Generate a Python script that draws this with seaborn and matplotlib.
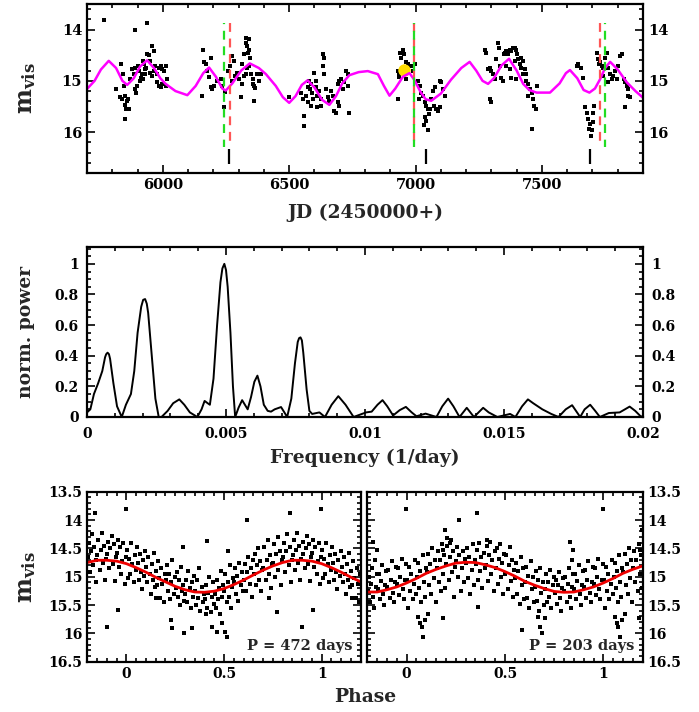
import numpy as np
import pandas as pd
import matplotlib
matplotlib.use("Agg")
import matplotlib.pyplot as plt
from matplotlib.ticker import MultipleLocator, FuncFormatter
import seaborn as sns

# ---------------- DATA ----------------
# light curve (JD-2450000, visual magnitude)
lc_jd = [5766, 5891, 5938, 5815, 5836, 5841, 5845, 5832, 5839, 5852, 5858, 5862, 5849, 5854, 5865, 5852,
         5872, 5878, 5885, 5891, 5898, 5891, 5894, 5902, 5907, 5915, 5918, 5921, 5928, 5934, 5938, 5944,
         5951, 5958, 5964, 5971, 5964, 5977, 5984, 5991, 5997, 6004, 6011, 5977, 5984, 5991, 5997, 6011,
         6017, 5958, 5951, 5925, 5911, 5905, 5921, 5931,
         6159, 6163, 6169, 6176, 6189, 6183, 6189, 6196, 6156, 6202, 6216, 6229, 6235, 6242, 6246, 6259,
         6265, 6275, 6282, 6275, 6286, 6295, 6302, 6308, 6315, 6321, 6328, 6331, 6335, 6337, 6341, 6345,
         6341, 6348, 6355, 6357, 6361, 6365, 6361, 6374, 6381, 6388, 6328, 6335, 6315, 6321, 6341,
         6500, 6546, 6553, 6560, 6557, 6566, 6573, 6579, 6583, 6586, 6592, 6596, 6599, 6606, 6606, 6612,
         6619, 6625, 6632, 6636, 6632, 6639, 6645, 6652, 6659, 6665, 6672, 6678, 6685, 6692, 6698, 6692,
         6698, 6705, 6711, 6718, 6725, 6731, 6734, 6738, 6625, 6612, 6575, 6586,
         6930, 6936, 6940, 6943, 6950, 6956, 6963, 6930, 6936, 6983, 6989, 6999, 7009, 7016, 7022, 7012,
         7029, 7036, 7042, 7049, 7055, 7036, 7042, 7049, 7033, 7062, 7069, 7075, 7082, 7089, 7095, 7102,
         7095, 7108, 7115, 7059, 7073, 6963, 6969, 6956,
         7273, 7277, 7287, 7293, 7300, 7307, 7313, 7293, 7300, 7320, 7326, 7330, 7333, 7340, 7346, 7349,
         7353, 7359, 7366, 7373, 7379, 7386, 7393, 7399, 7402, 7393, 7406, 7412, 7419, 7426, 7419, 7432,
         7426, 7439, 7439, 7445, 7452, 7459, 7445, 7465, 7468, 7476, 7459, 7481, 7359, 7373, 7379, 7399,
         7637, 7644, 7653, 7661, 7670, 7680, 7684, 7690, 7688, 7697, 7703, 7693, 7703, 7706, 7717, 7723,
         7727, 7730, 7737, 7743, 7750, 7756, 7763, 7770, 7783, 7789, 7796, 7803, 7809, 7816, 7823, 7829,
         7836, 7842, 7842, 7849, 7829, 7743, 7776, 7763]
lc_mag = [13.81, 14.00, 13.88, 15.16, 14.68, 14.87, 15.11, 15.32, 15.36, 15.29, 15.39, 15.36, 15.47, 15.55, 15.55, 15.74,
          14.97, 14.77, 14.87, 14.74, 15.11, 15.16, 15.23, 14.71, 14.81, 14.94, 14.87, 14.97, 14.77, 14.74, 14.48, 14.50,
          14.61, 14.32, 14.42, 14.71, 14.81, 14.87, 14.74, 14.71, 14.77, 14.81, 14.71, 15.03, 15.10, 15.13, 15.06, 15.11,
          14.97, 14.90, 14.84, 14.68, 15.00, 14.81, 14.61, 14.87,
          14.39, 14.64, 14.68, 14.81, 14.55, 14.92, 15.13, 15.16, 15.29, 15.11, 15.00, 14.97, 15.11, 15.52, 15.21, 14.81,
          14.71, 14.51, 14.61, 15.00, 14.90, 14.84, 14.97, 15.32, 15.06, 14.90, 14.16, 14.26, 14.32, 14.45, 14.39, 14.55,
          14.71, 14.87, 14.97, 15.06, 15.11, 15.15, 15.39, 14.87, 15.00, 14.87, 14.87, 14.74, 14.68, 14.48, 14.19,
          15.32, 15.23, 15.36, 15.68, 15.89, 15.29, 15.13, 15.00, 15.16, 15.06, 15.23, 15.36, 14.84, 15.00, 15.13, 15.29,
          15.19, 15.36, 14.48, 14.55, 14.71, 14.87, 15.16, 15.32, 15.39, 15.19, 15.29, 15.58, 15.62, 15.42, 15.49, 15.06,
          15.00, 14.97, 15.16, 15.03, 14.81, 14.87, 15.10, 15.62, 15.49, 15.52, 15.42, 15.49,
          15.36, 14.92, 14.45, 14.55, 14.39, 14.48, 14.63, 14.81, 14.84, 14.71, 14.81, 14.68, 15.00, 15.10, 15.23, 15.36,
          15.29, 15.42, 15.49, 15.55, 15.65, 15.71, 15.78, 15.97, 15.87, 15.36, 15.19, 15.13, 15.55, 15.58, 15.52, 15.03,
          15.00, 15.16, 15.29, 15.55, 15.49, 14.97, 14.68, 14.77,
          14.39, 14.45, 14.77, 14.74, 14.81, 14.87, 14.97, 15.36, 15.42, 14.58, 14.26, 14.35, 14.71, 14.94, 15.00, 14.48,
          14.45, 14.42, 14.48, 14.39, 14.42, 14.35, 14.35, 14.39, 14.48, 14.61, 14.58, 14.68, 14.55, 14.61, 14.74, 14.77,
          14.87, 14.87, 15.00, 15.06, 15.16, 15.23, 15.29, 15.36, 15.49, 15.55, 15.94, 15.11, 14.71, 14.77, 14.94, 14.97,
          14.71, 14.68, 14.74, 14.94, 15.52, 15.62, 15.74, 15.84, 15.94, 15.97, 15.81, 16.07, 15.62, 15.49, 14.45, 14.58,
          14.68, 14.64, 14.71, 14.74, 14.55, 14.45, 14.74, 14.87, 14.90, 14.81, 14.97, 14.71, 14.51, 14.48, 14.97, 15.03,
          15.10, 15.16, 15.29, 15.32, 15.52, 14.90, 14.97, 15.03]

# multi-periodic fit (magenta)
fit_jd = [5700, 5730, 5755, 5786, 5815, 5840, 5859, 5885, 5910, 5938, 5965, 5990, 6011, 6050, 6097, 6130,
          6160, 6183, 6210, 6235, 6249, 6275, 6310, 6344, 6380, 6408, 6447, 6475, 6500, 6525, 6550, 6573,
          6600, 6630, 6659, 6685, 6710, 6738, 6775, 6811, 6851, 6875, 6897, 6920, 6950, 6976, 6995, 7020,
          7040, 7062, 7100, 7140, 7181, 7214, 7240, 7265, 7287, 7310, 7340, 7370, 7400, 7426, 7450, 7479,
          7532, 7570, 7595, 7611, 7640, 7665, 7688, 7710, 7730, 7750, 7770, 7800, 7836, 7870, 7900]
fit_mag = [15.16, 15.00, 14.78, 14.61, 14.75, 15.00, 15.08, 14.95, 14.72, 14.60, 14.75, 14.95, 15.06, 15.20, 15.28, 15.10,
           14.85, 14.74, 14.92, 15.15, 15.19, 15.05, 14.80, 14.66, 14.75, 14.87, 15.10, 15.32, 15.43, 15.30, 15.08, 14.99,
           15.13, 15.37, 15.47, 15.30, 15.05, 14.89, 14.83, 14.81, 14.87, 15.10, 15.29, 15.15, 14.92, 14.85, 14.98, 15.22,
           15.36, 15.39, 15.25, 14.98, 14.75, 14.63, 14.80, 15.00, 15.06, 14.95, 14.70, 14.57, 14.80, 15.06, 15.18, 15.23,
           15.23, 15.05, 14.85, 14.79, 14.95, 15.18, 15.23, 15.15, 14.97, 14.75, 14.63, 14.78, 15.03, 15.20, 15.33]

green_jd = [6241, 6993, 7749]
red_jd = [6264, 6993, 7728]
mark_jd = [6262, 7043, 7692]
yellow_jd, yellow_mag = [6954], [14.78]

# periodogram
freq = [0.0, 0.00012, 0.00025, 0.0004, 0.00055, 0.00065, 0.00069, 0.00074, 0.00079, 0.00083, 0.00095, 0.00108, 0.00125,
        0.0014, 0.00158, 0.0017, 0.00182, 0.00195, 0.00202, 0.00209, 0.00215, 0.0022, 0.00233, 0.00246, 0.00258,
        0.00268, 0.0029, 0.0031, 0.00332, 0.0035, 0.0037, 0.00397, 0.00412, 0.00423, 0.00434, 0.00442,
        0.00455, 0.00468, 0.0048, 0.00487, 0.00494, 0.005, 0.00506, 0.00516, 0.00525, 0.00533,
        0.00545, 0.00558, 0.00568, 0.00578, 0.0059, 0.00602, 0.00613, 0.00624, 0.00636, 0.0065, 0.00662,
        0.00675, 0.00698, 0.0071, 0.0072, 0.00735, 0.00748, 0.00758, 0.00763, 0.00768, 0.00773, 0.00778, 0.0079, 0.008,
        0.0081, 0.00836, 0.00856, 0.0088, 0.00904, 0.0093, 0.00959, 0.01004, 0.01024, 0.01045, 0.01063,
        0.0108, 0.01101, 0.01125, 0.01147, 0.01168, 0.01185, 0.01218, 0.01257, 0.01278, 0.01299, 0.01318,
        0.0134, 0.01366, 0.01392, 0.01425, 0.01445, 0.01476, 0.01522, 0.01541, 0.01565, 0.01586, 0.01605,
        0.01638, 0.0167, 0.01696, 0.01722, 0.01745, 0.01774, 0.0179, 0.0181, 0.01828, 0.01845, 0.01877,
        0.01916, 0.01935, 0.01952, 0.01972, 0.01994, 0.02]
power = [0.03, 0.05, 0.15, 0.22, 0.30, 0.39, 0.41, 0.42, 0.41, 0.38, 0.22, 0.07, 0.0,
         0.08, 0.15, 0.30, 0.55, 0.72, 0.765, 0.77, 0.74, 0.68, 0.40, 0.12, 0.0,
         0.0, 0.04, 0.09, 0.115, 0.08, 0.03, 0.0, 0.05, 0.105, 0.09, 0.08,
         0.25, 0.60, 0.88, 0.97, 1.0, 0.96, 0.85, 0.55, 0.20, 0.0,
         0.06, 0.11, 0.08, 0.05, 0.13, 0.23, 0.27, 0.20, 0.08, 0.04, 0.035,
         0.05, 0.065, 0.03, 0.0, 0.12, 0.35, 0.49, 0.515, 0.52, 0.50, 0.42, 0.18, 0.04,
         0.02, 0.03, 0.0, 0.08, 0.136, 0.08, 0.0, 0.03, 0.035, 0.08, 0.11,
         0.07, 0.01, 0.045, 0.066, 0.03, 0.005, 0.022, 0.0, 0.07, 0.12, 0.07,
         0.0, 0.06, 0.0, 0.06, 0.03, 0.0, 0.02, 0.0, 0.07, 0.115, 0.09,
         0.05, 0.02, 0.0, 0.05, 0.077, 0.0, 0.05, 0.08, 0.04, 0.0, 0.026,
         0.03, 0.05, 0.068, 0.04, 0.0, 0.01]

# phase-folded data, P = 472 d
ph1 = [0.004, 0.011, 0.018, 0.024, 0.031, 0.037, 0.043, 0.048, 0.008,
       0.053, 0.058, 0.064, 0.069, 0.075, 0.081, 0.086, 0.092, 0.097,
       0.102, 0.108, 0.113, 0.119, 0.124, 0.131, 0.137, 0.142, 0.147,
       0.152, 0.157, 0.163, 0.168, 0.174, 0.179, 0.185, 0.191, 0.196,
       0.203, 0.208, 0.214, 0.219, 0.225, 0.231, 0.236, 0.242, 0.247,
       0.252, 0.257, 0.263, 0.268, 0.274, 0.279, 0.285, 0.291, 0.296,
       0.302, 0.307, 0.313, 0.318, 0.324, 0.331, 0.336, 0.342, 0.347,
       0.352, 0.357, 0.363, 0.368, 0.374, 0.379, 0.385, 0.391, 0.396,
       0.402, 0.407, 0.413, 0.418, 0.424, 0.431, 0.436, 0.442, 0.447,
       0.452, 0.457, 0.463, 0.468, 0.474, 0.479, 0.485, 0.491, 0.496,
       0.502, 0.507, 0.513, 0.518, 0.524, 0.531, 0.536, 0.542, 0.547,
       0.552, 0.557, 0.563, 0.568, 0.574, 0.579, 0.585, 0.591, 0.596,
       0.602, 0.607, 0.613, 0.618, 0.624, 0.631, 0.636, 0.642, 0.647,
       0.652, 0.657, 0.663, 0.668, 0.674, 0.679, 0.685, 0.691, 0.696,
       0.702, 0.707, 0.713, 0.718, 0.724, 0.731, 0.736, 0.742, 0.747,
       0.752, 0.757, 0.763, 0.768, 0.774, 0.779, 0.785, 0.791, 0.796,
       0.802, 0.807, 0.813, 0.818, 0.824, 0.831, 0.836, 0.842, 0.847,
       0.852, 0.857, 0.863, 0.868, 0.874, 0.879, 0.885, 0.891, 0.896,
       0.902, 0.907, 0.913, 0.918, 0.924, 0.931, 0.936, 0.942, 0.947,
       0.952, 0.957, 0.963, 0.968, 0.974, 0.979, 0.985, 0.991, 0.996,
       0.839, 0.996, 0.619, 0.411, 0.291, 0.519, 0.899, 0.955, 0.228, 0.235, 0.297,
       0.334, 0.437, 0.488, 0.513, 0.505, 0.462, 0.406, 0.769, 0.730, 0.153]
mg1 = [14.52, 14.68, 14.95, 14.40, 14.78, 15.10, 14.62, 14.88, 15.02,
       14.48, 14.75, 15.05, 14.60, 14.92, 15.22, 14.70, 14.98, 14.55,
       14.82, 15.10, 14.65, 14.95, 15.30, 14.78, 15.05, 14.58, 15.18,
       14.90, 15.15, 14.72, 15.02, 15.38, 14.85, 15.12, 15.45, 14.95,
       15.05, 14.80, 15.25, 14.95, 15.40, 15.10, 14.70, 15.30, 15.00,
       15.20, 14.92, 15.35, 15.05, 15.50, 14.82, 15.25, 15.15, 15.42,
       15.30, 15.05, 15.45, 14.90, 15.20, 15.55, 15.10, 15.35, 14.98,
       15.25, 15.50, 15.05, 15.38, 14.85, 15.60, 15.18, 15.45, 15.30,
       15.40, 15.15, 15.55, 15.28, 15.00, 15.62, 15.35, 15.10, 15.48,
       15.30, 15.55, 15.05, 15.40, 15.20, 15.65, 14.90, 15.35, 15.15,
       15.25, 14.95, 15.45, 15.10, 15.35, 14.80, 15.55, 15.18, 15.02,
       15.10, 14.85, 15.30, 14.98, 15.42, 14.75, 15.15, 14.92, 15.25,
       15.05, 14.78, 15.25, 14.92, 14.65, 15.12, 14.85, 15.35, 14.70,
       14.95, 14.60, 15.15, 14.80, 14.50, 15.05, 14.72, 15.25, 14.88,
       14.85, 14.48, 15.05, 14.70, 14.35, 14.95, 14.62, 15.20, 14.78,
       14.75, 14.42, 15.00, 14.60, 14.30, 14.88, 14.55, 15.15, 14.70,
       14.65, 14.40, 14.92, 14.55, 14.25, 14.80, 14.48, 15.10, 14.70,
       14.62, 14.35, 14.88, 14.52, 14.22, 14.75, 14.45, 15.05, 14.68,
       14.60, 14.38, 14.85, 14.50, 14.28, 14.78, 14.42, 15.08, 14.65,
       14.58, 14.35, 14.82, 14.48, 14.95, 14.72, 14.40, 15.12, 14.65,
       13.88, 13.81, 14.00, 14.37, 14.47, 14.54, 15.88, 15.59, 15.76, 15.91, 16.00,
       15.91, 15.88, 15.82, 16.06, 15.97, 15.97, 15.65, 15.62, 15.38, 15.38]

# phase-folded data, P = 203 d
ph2 = [0.004, 0.011, 0.018, 0.024, 0.031, 0.037, 0.043, 0.048, 0.008,
       0.053, 0.058, 0.064, 0.069, 0.075, 0.081, 0.086, 0.092, 0.097,
       0.102, 0.108, 0.113, 0.119, 0.124, 0.131, 0.137, 0.142, 0.147,
       0.152, 0.157, 0.163, 0.168, 0.174, 0.179, 0.185, 0.191, 0.196,
       0.202, 0.207, 0.213, 0.218, 0.224, 0.231, 0.236, 0.242, 0.247,
       0.252, 0.257, 0.263, 0.268, 0.274, 0.279, 0.285, 0.291, 0.296,
       0.302, 0.307, 0.313, 0.318, 0.324, 0.331, 0.336, 0.342, 0.347,
       0.352, 0.357, 0.363, 0.368, 0.374, 0.379, 0.385, 0.391, 0.396,
       0.402, 0.407, 0.413, 0.418, 0.424, 0.431, 0.436, 0.442, 0.447,
       0.452, 0.457, 0.463, 0.468, 0.474, 0.479, 0.485, 0.491, 0.496,
       0.502, 0.507, 0.513, 0.518, 0.524, 0.531, 0.536, 0.542, 0.547,
       0.552, 0.557, 0.563, 0.568, 0.574, 0.579, 0.585, 0.591, 0.596,
       0.602, 0.607, 0.613, 0.618, 0.624, 0.631, 0.636, 0.642, 0.647,
       0.652, 0.657, 0.663, 0.668, 0.674, 0.679, 0.685, 0.691, 0.696,
       0.702, 0.707, 0.713, 0.718, 0.724, 0.731, 0.736, 0.742, 0.747,
       0.752, 0.757, 0.763, 0.768, 0.774, 0.779, 0.785, 0.791, 0.796,
       0.802, 0.807, 0.813, 0.818, 0.824, 0.831, 0.836, 0.842, 0.847,
       0.852, 0.857, 0.863, 0.868, 0.874, 0.879, 0.885, 0.891, 0.896,
       0.902, 0.907, 0.913, 0.918, 0.924, 0.931, 0.936, 0.942, 0.947,
       0.952, 0.957, 0.963, 0.968, 0.974, 0.979, 0.985, 0.991, 0.996,
       0.998, 0.359, 0.267, 0.076, 0.085, 0.068, 0.093, 0.110, 0.059, 0.183, 0.364,
       0.585, 0.669, 0.678, 0.686, 0.703, 0.195, 0.203, 0.220, 0.186, 0.407, 0.830,
       0.847, 0.839]
mg2 = [15.05, 14.82, 15.25, 14.95, 15.40, 15.12, 14.70, 15.30, 15.55,
       15.00, 14.75, 15.20, 14.90, 15.45, 14.62, 15.10, 15.35, 14.85,
       14.92, 14.60, 15.15, 14.78, 15.30, 14.50, 15.02, 14.70, 15.45,
       14.85, 14.55, 15.10, 14.70, 15.25, 14.42, 14.95, 14.62, 15.20,
       14.78, 14.45, 15.05, 14.65, 14.35, 14.92, 14.55, 15.35, 14.82,
       14.72, 14.48, 15.00, 14.62, 15.25, 14.85, 14.55, 15.10, 14.68,
       14.75, 14.50, 15.02, 14.65, 15.30, 14.88, 14.42, 15.15, 14.70,
       14.78, 14.52, 15.05, 14.40, 14.90, 14.65, 15.20, 14.58, 14.85,
       14.80, 14.45, 15.08, 14.62, 14.38, 14.95, 14.70, 15.25, 14.55,
       14.85, 14.50, 15.12, 14.68, 14.42, 15.00, 14.75, 15.30, 14.60,
       14.95, 14.62, 15.22, 14.80, 14.48, 15.08, 14.70, 15.35, 14.88,
       15.02, 14.75, 15.30, 14.90, 15.48, 14.65, 15.15, 14.85, 15.40,
       15.10, 14.82, 15.38, 14.98, 15.55, 14.72, 15.22, 15.00, 15.45,
       15.18, 14.90, 15.42, 15.05, 15.60, 14.85, 15.28, 15.10, 15.50,
       15.22, 14.95, 15.45, 15.10, 15.35, 14.88, 15.55, 15.15, 15.00,
       15.28, 15.05, 15.48, 15.15, 14.92, 15.38, 15.60, 15.20, 15.02,
       15.25, 15.00, 15.45, 15.12, 14.85, 15.35, 15.55, 15.18, 14.95,
       15.22, 14.95, 15.40, 15.08, 14.80, 15.30, 15.50, 15.15, 14.90,
       15.18, 14.88, 15.38, 15.05, 14.72, 15.28, 15.45, 15.10, 14.82,
       15.12, 14.85, 15.32, 15.00, 14.68, 15.22, 15.40, 15.05, 14.78,
       13.81, 13.88, 14.00, 15.88, 16.06, 15.82, 15.76, 15.65, 15.71, 15.73, 15.53,
       15.94, 15.71, 15.88, 16.00, 15.73, 14.18, 14.32, 14.41, 14.53, 14.35, 14.38,
       14.53, 14.71]

# sinusoidal fits
cph = [-0.2, -0.15, -0.1, -0.05, 0.0, 0.05, 0.1, 0.15, 0.2, 0.25, 0.3, 0.35, 0.4, 0.45, 0.5,
       0.55, 0.6, 0.65, 0.7, 0.75, 0.8, 0.85, 0.9, 0.95, 1.0, 1.05, 1.1, 1.15, 1.2]
cfit1 = [14.75, 14.71, 14.71, 14.725, 14.77, 14.84, 14.92, 15.01, 15.09, 15.17, 15.23, 15.27, 15.275, 15.255, 15.21,
         15.14, 15.06, 14.97, 14.885, 14.81, 14.75, 14.71, 14.71, 14.725, 14.77, 14.84, 14.92, 15.01, 15.09]
cfit2 = [15.27, 15.27, 15.23, 15.18, 15.11, 15.03, 14.94, 14.87, 14.81, 14.76, 14.745, 14.75, 14.79, 14.84, 14.91,
         14.99, 15.08, 15.15, 15.21, 15.26, 15.275, 15.27, 15.23, 15.18, 15.11, 15.03, 14.94, 14.87, 14.81]

periods = ["472", "203"]

# ---------------- STYLE ----------------
sns.set_style("ticks")
plt.rcParams["font.family"] = ["DejaVu Serif"]
plt.rcParams["font.weight"] = "bold"
plt.rcParams["mathtext.fontset"] = "dejavuserif"
plt.rcParams["axes.linewidth"] = 1.6

W, H = 699, 712
fig = plt.figure(figsize=(W / 100, H / 100), dpi=100)


def box(l, t, r, b):
    return [l / W, 1 - b / H, (r - l) / W, (b - t) / H]


def style(ax, fs=10):
    ax.tick_params(which="both", direction="in", top=True, right=True, bottom=True, left=True,
                   width=1.2, labelsize=fs, colors="black")
    ax.tick_params(which="major", length=6)
    ax.tick_params(which="minor", length=3)
    for s in ax.spines.values():
        s.set_color("black")
        s.set_linewidth(1.6)
    ax.set_xlabel("")
    ax.set_ylabel("")


fmt = FuncFormatter(lambda v, p: "%g" % v)

# ---------- top: light curve ----------
ax1 = fig.add_axes(box(87, 4, 643, 173))
sns.lineplot(x=fit_jd, y=fit_mag, ax=ax1, color="#ff00ff", lw=1.8, estimator=None, sort=False)
sns.scatterplot(x=lc_jd, y=lc_mag, ax=ax1, color="black", s=10, marker="s", linewidth=0, legend=False)
ax1.vlines(red_jd, 13.88, 16.3, colors="#ff5555", linestyles=(0, (4, 3)), lw=1.6)
ax1.vlines(green_jd, 13.88, 16.3, colors="#22dd22", linestyles=(3.5, (4, 3)), lw=1.6)
ax1.vlines(mark_jd, 16.33, 16.62, colors="black", lw=1.6)
sns.scatterplot(x=yellow_jd, y=yellow_mag, ax=ax1, color="#ffdd00", s=80, linewidth=0, legend=False)
ax1.set_xlim(5700, 7900)
ax1.set_ylim(16.8, 13.5)
ax1.xaxis.set_major_locator(MultipleLocator(500))
ax1.xaxis.set_minor_locator(MultipleLocator(100))
ax1.yaxis.set_major_locator(MultipleLocator(1))
ax1.yaxis.set_minor_locator(MultipleLocator(0.2))
ax1.xaxis.set_major_formatter(fmt)
ax1.yaxis.set_major_formatter(fmt)
style(ax1, 10.5)
ax1.tick_params(labelright=True)

# ---------- middle: periodogram ----------
ax2 = fig.add_axes(box(87, 247, 643, 417))
sns.lineplot(x=freq, y=power, ax=ax2, color="black", lw=1.4, estimator=None, sort=False)
ax2.set_xlim(0, 0.02)
ax2.set_ylim(0, 1.11)
ax2.xaxis.set_major_locator(MultipleLocator(0.005))
ax2.xaxis.set_minor_locator(MultipleLocator(0.001))
ax2.yaxis.set_major_locator(MultipleLocator(0.2))
ax2.yaxis.set_minor_locator(MultipleLocator(0.05))
ax2.xaxis.set_major_formatter(fmt)
ax2.yaxis.set_major_formatter(fmt)
style(ax2, 10)
ax2.tick_params(labelright=True)
ax2.tick_params(axis="x", pad=7)
ax2.tick_params(axis="y", pad=6)

# ---------- bottom: phase plots ----------
def wrap(ph, mg):
    ph = np.asarray(ph)
    mg = np.asarray(mg)
    lo = ph >= 0.8
    hi = ph < 0.2
    return (np.concatenate([ph, ph[lo] - 1, ph[hi] + 1]),
            np.concatenate([mg, mg[lo], mg[hi]]))


ax3 = fig.add_axes(box(87.3, 491.7, 360.7, 661.7))
ax4 = fig.add_axes(box(367.3, 491.7, 642.7, 661.7))
for ax, ph, mg, cf, per in [(ax3, ph1, mg1, cfit1, periods[0]), (ax4, ph2, mg2, cfit2, periods[1])]:
    x, y = wrap(ph, mg)
    df = pd.DataFrame({"phase": x, "mag": y})
    sns.scatterplot(data=df, x="phase", y="mag", ax=ax, color="black", s=11, marker="s",
                    linewidth=0, legend=False)
    sns.lineplot(x=cph, y=cf, ax=ax, color="#ee0000", lw=2.0, estimator=None, sort=False)
    ax.set_xlim(-0.2, 1.2)
    ax.set_ylim(16.5, 13.5)
    ax.xaxis.set_major_locator(MultipleLocator(0.5))
    ax.xaxis.set_minor_locator(MultipleLocator(0.05))
    ax.yaxis.set_major_locator(MultipleLocator(0.5))
    ax.yaxis.set_minor_locator(MultipleLocator(0.1))
    ax.xaxis.set_major_formatter(fmt)
    ax.yaxis.set_major_formatter(fmt)
    style(ax, 10)
    ax.text(0.97, 0.05, "P = %s days" % per, transform=ax.transAxes, ha="right", va="bottom",
            fontsize=10.5, fontweight="bold")
ax4.tick_params(labelleft=False, labelright=True)

# ---------- axis labels ----------
fig.text(365 / W, 1 - 213 / H, "JD (2450000+)", ha="center", va="center", fontsize=13.5, fontweight="bold")
fig.text(365 / W, 1 - 458 / H, "Frequency (1/day)", ha="center", va="center", fontsize=13.5, fontweight="bold")
fig.text(365 / W, 1 - 697 / H, "Phase", ha="center", va="center", fontsize=13.5, fontweight="bold")
mlab = r"$\mathbf{m}_{\mathbf{vis}}$"
fig.text(26 / W, 1 - 88 / H, mlab, rotation=90, ha="center", va="center", fontsize=17)
fig.text(26 / W, 1 - 332 / H, "norm. power", rotation=90, ha="center", va="center", fontsize=13.5,
         fontweight="bold")
fig.text(26 / W, 1 - 577 / H, mlab, rotation=90, ha="center", va="center", fontsize=17)

fig.savefig("out.png", dpi=100)
